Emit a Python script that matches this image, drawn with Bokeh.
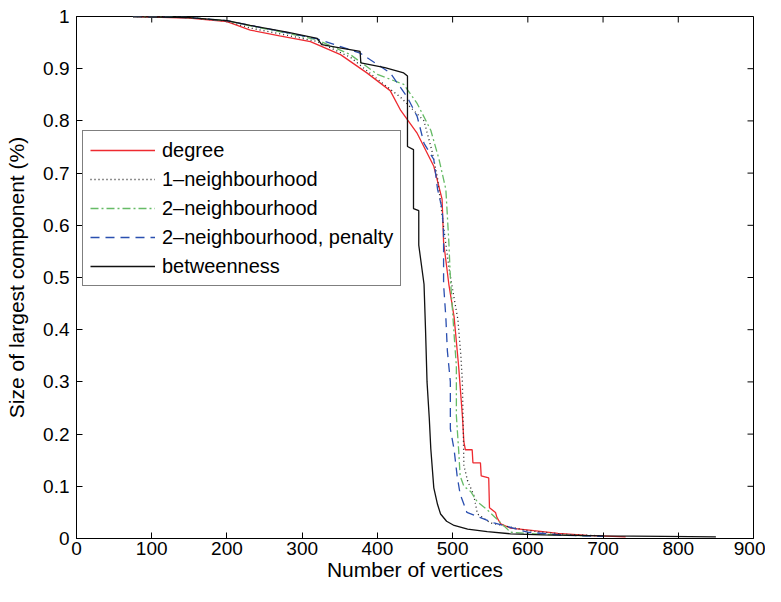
import math
from bokeh.plotting import figure
from bokeh.models import Legend, LegendItem, FixedTicker, Range1d
from bokeh.embed import file_html
from bokeh.resources import INLINE

# ---- data ----
x_ticks = [0, 100, 200, 300, 400, 500, 600, 700, 800, 900]
y_ticks = [0, 0.1, 0.2, 0.3, 0.4, 0.5, 0.6, 0.7, 0.8, 0.9, 1.0]
y_tick_labels = ["0", "0.1", "0.2", "0.3", "0.4", "0.5", "0.6", "0.7", "0.8", "0.9", "1"]

degree_x = [75, 150, 200, 231, 270, 311, 351, 386, 417, 431, 453, 475, 486, 488, 495, 502, 508, 513, 515,
            517, 526, 527, 537, 538, 548, 549, 557, 559, 564, 577, 608, 640, 679, 730]
degree_y = [1.0, 0.997, 0.99, 0.974, 0.963, 0.952, 0.927, 0.892, 0.858, 0.82, 0.776, 0.713, 0.65, 0.568,
            0.487, 0.424, 0.33, 0.235, 0.185, 0.17, 0.17, 0.145, 0.145, 0.12, 0.116, 0.059, 0.05, 0.04,
            0.028, 0.02, 0.015, 0.01, 0.006, 0.003]

n1_x = [75, 150, 200, 231, 280, 320, 364, 400, 431, 462, 473, 480, 486, 495, 502, 507, 511, 513, 515,
        520, 528, 533, 550, 600, 650, 700]
n1_y = [1.0, 0.998, 0.991, 0.978, 0.964, 0.952, 0.922, 0.88, 0.845, 0.80, 0.74, 0.69, 0.62, 0.52, 0.46,
        0.42, 0.35, 0.30, 0.14, 0.11, 0.084, 0.047, 0.03, 0.015, 0.008, 0.005]

n2_x = [75, 150, 200, 231, 280, 320, 364, 400, 435, 453, 471, 482, 491, 495, 497, 502, 505, 505, 508,
        510, 515, 524, 533, 546, 564, 577, 620, 680]
n2_y = [1.0, 0.998, 0.992, 0.982, 0.968, 0.955, 0.927, 0.889, 0.870, 0.833, 0.782, 0.726, 0.669, 0.568,
        0.5, 0.39, 0.33, 0.235, 0.17, 0.12, 0.10, 0.09, 0.07, 0.055, 0.03, 0.012, 0.008, 0.005]

pen_x = [75, 150, 200, 231, 280, 320, 377, 417, 440, 453, 462, 475, 480, 486, 488, 488, 491, 493, 497,
         497, 502, 506, 510, 519, 537, 555, 600, 650, 700]
pen_y = [1.0, 0.998, 0.992, 0.983, 0.969, 0.957, 0.93, 0.892, 0.845, 0.808, 0.757, 0.726, 0.669, 0.632,
         0.587, 0.487, 0.424, 0.36, 0.30, 0.21, 0.17, 0.12, 0.085, 0.05, 0.04, 0.03, 0.012, 0.006, 0.004]

btw_x = [75, 150, 200, 231, 280, 320, 326, 350, 377, 378, 410, 435, 440, 440, 448, 448, 455, 455, 462,
         464, 466, 469, 471, 475, 480, 484, 492, 502, 520, 546, 577, 620, 700, 780, 850]
btw_y = [1.0, 0.998, 0.992, 0.983, 0.97, 0.958, 0.946, 0.94, 0.933, 0.911, 0.902, 0.892, 0.886, 0.751,
         0.745, 0.632, 0.628, 0.562, 0.487, 0.40, 0.30, 0.23, 0.172, 0.097, 0.065, 0.047, 0.033, 0.025,
         0.018, 0.013, 0.009, 0.007, 0.005, 0.004, 0.003]

labels = ["degree", "1\u2013neighbourhood", "2\u2013neighbourhood",
          "2\u2013neighbourhood, penalty", "betweenness"]

FONT = "Liberation Sans"

p = figure(width=765, height=586, output_backend="svg", toolbar_location=None,
           x_range=Range1d(0, 900), y_range=Range1d(0, 1),
           min_border_left=76, min_border_right=12, min_border_top=16, min_border_bottom=48,
           x_axis_label="Number of vertices", y_axis_label="Size of largest component (%)")
p.grid.visible = False
p.outline_line_color = "black"
p.background_fill_color = "white"
p.border_fill_color = "white"

for ax in [p.xaxis[0], p.yaxis[0]]:
    ax.major_tick_in = 6
    ax.major_tick_out = 0
    ax.minor_tick_line_color = None
    ax.axis_line_color = "black"
    ax.major_tick_line_color = "black"
    ax.major_label_text_font = FONT
    ax.major_label_text_font_size = "19px"
    ax.major_label_text_color = "black"
    ax.axis_label_text_font = FONT
    ax.axis_label_text_font_size = "21px"
    ax.axis_label_text_font_style = "normal"
    ax.axis_label_text_color = "black"

p.xaxis[0].ticker = FixedTicker(ticks=x_ticks)
p.yaxis[0].ticker = FixedTicker(ticks=y_ticks)
p.yaxis[0].major_label_overrides = {t: l for t, l in zip(y_ticks, y_tick_labels)}
p.xaxis[0].major_label_standoff = 3
p.xaxis[0].axis_label_standoff = 0
p.yaxis[0].major_label_standoff = 7
p.yaxis[0].axis_label_standoff = 12

# inward box ticks on the top and right frame edges
p.ray(x=x_ticks, y=[1.0] * len(x_ticks), length=6, length_units="screen",
      angle=-math.pi / 2, line_color="black", line_width=1)
p.ray(x=[900] * len(y_ticks), y=y_ticks, length=6, length_units="screen",
      angle=math.pi, line_color="black", line_width=1)

r_deg = p.line(degree_x, degree_y, line_color="#ee2a30", line_width=1.3)
r_n1 = p.line(n1_x, n1_y, line_color="#222222", line_width=1.3, line_dash="1 3")
r_n2 = p.line(n2_x, n2_y, line_color="#66bb66", line_width=1.3, line_dash="8 3 2 3")
r_pen = p.line(pen_x, pen_y, line_color="#2a4fb0", line_width=1.3, line_dash="9 6")
r_btw = p.line(btw_x, btw_y, line_color="#111111", line_width=1.3)

items = [LegendItem(label=l, renderers=[r]) for l, r in
         zip(labels, [r_deg, r_n1, r_n2, r_pen, r_btw])]
legend = Legend(items=items, location=(6, 252), orientation="vertical",
                label_text_font=FONT, label_text_font_size="20px", label_text_color="black",
                glyph_width=65, glyph_height=24, label_height=24, label_standoff=7,
                spacing=5, padding=7, margin=0,
                border_line_color="black", border_line_width=1,
                background_fill_color="white", background_fill_alpha=1.0)
p.add_layout(legend)

open("out.html", "w").write(file_html(p, INLINE))
